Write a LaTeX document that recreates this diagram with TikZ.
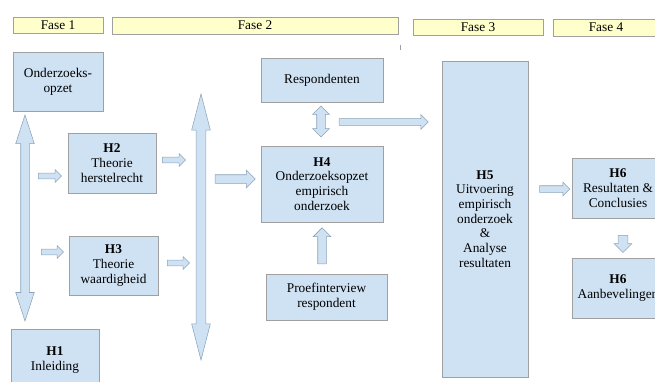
\documentclass[tikz,border=0pt]{standalone}
\usepackage{fontspec}
\setmainfont{Liberation Serif}
\usetikzlibrary{shapes.arrows}
\definecolor{boxblue}{RGB}{207,226,243}
\definecolor{faseyellow}{RGB}{255,255,204}
\definecolor{rimgray}{RGB}{160,160,160}
\definecolor{arrowrim}{RGB}{140,162,185}
\begin{document}
\begin{tikzpicture}[x=0.75pt,y=-0.75pt,
    fase/.style={draw=rimgray,fill=faseyellow,inner sep=0pt,font=\fontsize{10}{11}\selectfont},
    blok/.style={draw=rimgray,fill=boxblue,align=center,inner sep=0pt,font=\fontsize{10}{11}\selectfont},
    pijl/.style={single arrow,draw=arrowrim,fill=boxblue,inner sep=0pt},
    dubbelpijl/.style={double arrow,draw=arrowrim,fill=boxblue,inner sep=0pt,rotate=90}]
    \useasboundingbox (0,0) rectangle (655,381);

    % fases
    \node[fase,minimum width=67.5pt,minimum height=12pt] (fase1) at (58,25) {Fase 1};
    \node[fase,minimum width=214.5pt,minimum height=12.75pt] (fase2) at (255,25.5) {Fase 2};
    \node[fase,minimum width=97.5pt,minimum height=12pt] (fase3) at (478,27) {Fase 3};
    \node[fase,minimum width=79.5pt,minimum height=12.75pt] (fase4) at (606,27.5) {Fase 4};
    \draw[rimgray] (400,45) -- (400,50); % streepje

    % hoofdstukken
    \node[blok,minimum width=67.5pt,minimum height=44.25pt] (opzet) at (58,81.5) {Onderzoeks-\\opzet};
    \node[blok,minimum width=66pt,minimum height=45pt] (h2) at (112,163) {\textbf{H2}\\Theorie\\herstelrecht};
    \node[blok,minimum width=66.75pt,minimum height=44.25pt] (h3) at (113.5,265.5) {\textbf{H3}\\Theorie\\waardigheid};
    \node[blok,minimum width=66pt,minimum height=46.5pt] (h1) at (55,360) {\textbf{H1}\\Inleiding};
    \node[blok,minimum width=91.5pt,minimum height=33pt] (resp) at (322,80) {Respondenten};
    \node[blok,minimum width=91.5pt,minimum height=57pt] (h4) at (322,184) {\textbf{H4}\\Onderzoeksopzet\\empirisch\\onderzoek};
    \node[blok,minimum width=90.75pt,minimum height=34.5pt] (proef) at (326.5,297) {Proefinterview\\respondent};
    \node[blok,minimum width=64.5pt,minimum height=237pt] (h5) at (485,219) {\textbf{H5}\\Uitvoering\\empirisch\\onderzoek\\\&\\Analyse\\resultaten};
    \node[blok,minimum width=69pt,minimum height=45pt] (h6a) at (618,188) {\textbf{H6}\\Resultaten \&\\Conclusies};
    \node[blok,minimum width=69pt,minimum height=45pt] (h6b) at (618,288) {\textbf{H6}\\Aanbevelingen};

    % pijlen
    \node[dubbelpijl,minimum height=154.5pt,inner ysep=3pt,double arrow head extend=3.75pt,double arrow tip angle=36] (links) at (25,218) {};
    \node[dubbelpijl,minimum height=199.5pt,inner ysep=3.4pt,double arrow head extend=3.4pt,double arrow tip angle=29] (midden) at (201,227) {};
    \node[pijl,minimum height=17.25pt,inner ysep=1.9pt,single arrow head extend=2.6pt] (naarh2) at (48.5,176) {};
    \node[pijl,minimum height=16.5pt,inner ysep=1.9pt,single arrow head extend=2.6pt] (naarh3) at (51,252) {};
    \node[pijl,minimum height=17.25pt,inner ysep=1.9pt,single arrow head extend=2.6pt] (vanh2) at (172.5,160) {};
    \node[pijl,minimum height=16.5pt,inner ysep=1.9pt,single arrow head extend=2.6pt] (vanh3) at (177,263) {};
    \node[pijl,minimum height=30pt,inner ysep=3pt,single arrow head extend=3.4pt] (naarh4) at (233,179) {};
    \node[pijl,minimum height=66.75pt,inner ysep=2.25pt,single arrow head extend=3pt] (naarh5) at (382,122) {};
    \node[pijl,minimum height=22.5pt,inner ysep=2.25pt,single arrow head extend=2.6pt] (naarh6) at (553,189) {};
    \node[dubbelpijl,minimum height=23.25pt,inner ysep=3pt,double arrow head extend=3pt] (resph4) at (321,121.5) {};
    \node[pijl,rotate=90,minimum height=27pt,inner ysep=3pt,single arrow head extend=3.4pt] (proefh4) at (322,248) {};
    \node[pijl,rotate=-90,minimum height=12.75pt,inner ysep=3.4pt,single arrow head extend=3pt] (h6h6) at (623,241.5) {};
\end{tikzpicture}
\end{document}
